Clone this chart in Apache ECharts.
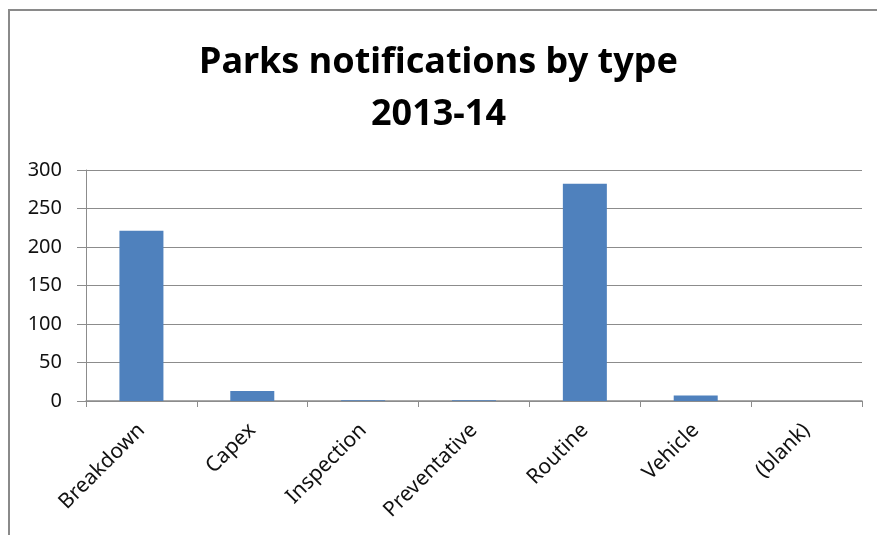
<!DOCTYPE html>
<html>
<head>
<meta charset="utf-8">
<script src="https://cdn.jsdelivr.net/npm/echarts@6/dist/echarts.min.js"></script>
<style>
  html, body { margin: 0; padding: 0; background: #fff; }
  #frame { position: absolute; left: 8px; top: 9px; width: 900px; height: 560px;
           border-left: 2px solid #8a8a8a; border-top: 2px solid #8a8a8a; }
  #chart { position: absolute; left: 0; top: 0; width: 877px; height: 535px; }
</style>
</head>
<body>
<div id="frame"></div>
<div id="chart"></div>
<script>
// Notification types and their counts for 2013-14
const categories = ['Breakdown', 'Capex', 'Inspection', 'Preventative', 'Routine', 'Vehicle', '(blank)'];
const counts = [221, 13, 1, 1, 282, 7, 0];
const yTicks = { min: 0, max: 300, interval: 50 };

const font = 'Noto Sans';
const chart = echarts.init(document.getElementById('chart'), null, { renderer: 'canvas' });
chart.setOption({
  animation: false,
  title: {
    text: 'Parks notifications by type\n2013-14',
    left: 'center',
    top: 32,
    textStyle: { fontFamily: font, fontWeight: 'bold', fontSize: 36, color: '#000', lineHeight: 52 }
  },
  grid: { left: 86, right: 15, top: 170, bottom: 134, containLabel: false },
  xAxis: {
    type: 'category',
    data: categories,
    axisLine: { lineStyle: { color: '#8c8c8c', width: 1.5 } },
    axisTick: { show: true, length: 6, alignWithLabel: false, lineStyle: { color: '#8c8c8c' } },
    axisLabel: {
      rotate: 45, interval: 0, margin: 26,
      fontFamily: font, fontSize: 21, color: '#111'
    }
  },
  yAxis: {
    type: 'value',
    min: yTicks.min, max: yTicks.max, interval: yTicks.interval,
    axisLine: { show: true, lineStyle: { color: '#8c8c8c', width: 1 } },
    axisTick: { show: true, length: 9, lineStyle: { color: '#8c8c8c' } },
    splitLine: { lineStyle: { color: '#8c8c8c', width: 1 } },
    axisLabel: { margin: 24, fontFamily: font, fontSize: 20, color: '#111' }
  },
  series: [{
    type: 'bar',
    data: counts,
    barWidth: 44,
    itemStyle: { color: '#4f81bd' }
  }]
});
</script>
</body>
</html>
